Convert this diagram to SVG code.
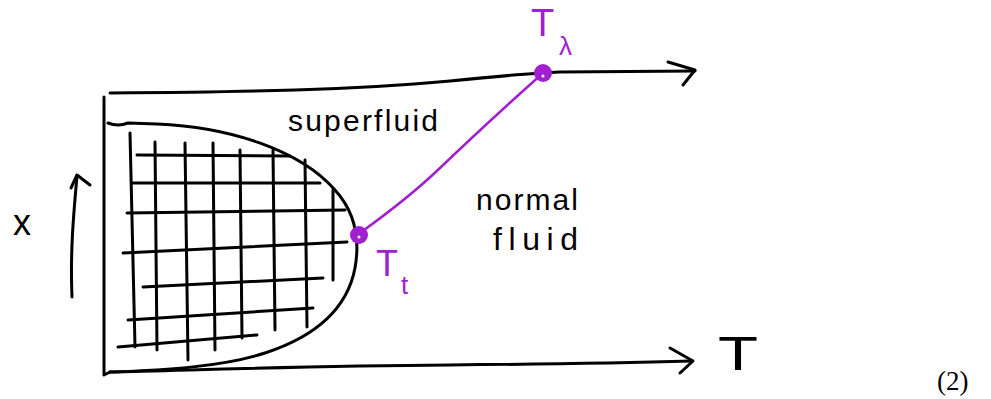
<svg xmlns="http://www.w3.org/2000/svg" width="991" height="399" viewBox="0 0 991 399">
<style>
.ink{fill:none;stroke:#000;stroke-width:3;stroke-linecap:round;stroke-linejoin:round}
.grid line{stroke:#000;stroke-width:3;stroke-linecap:round}
.pur{fill:none;stroke:#a020d0;stroke-width:2.5;stroke-linecap:round}
.dot{fill:#a020d0}
.hole{fill:#fff}
.hand{font-family:"Liberation Sans",Arial,sans-serif;fill:#000}
.ptxt{font-family:"Liberation Sans",Arial,sans-serif;fill:#a020d0}
</style>
<rect width="991" height="399" fill="#fff"/>
<g id="connectors">
  <g id="axes">
    <path class="ink" d="M104 97 L104 375 L110 372"/>
    <path class="ink" d="M110 93 C250 92 350 90 450 81 C500 76 530 73 560 72 L695 71"/>
    <path class="ink" d="M668 62 L695 70 L683 85"/>
    <path class="ink" d="M110 372 C200 370 300 366 450 365 C560 364 620 363 692 361"/>
    <path class="ink" d="M670 348 L693 361 L680 373"/>
    <path class="ink" d="M72 297 C70 250 74 210 77 176"/>
    <path class="ink" d="M71 188 L77 175 L90 185"/>
  </g>
  <path id="transition-line" class="pur" d="M360 233 C385 215 415 192 440 168 S515 98 543 73"/>
</g>
<g id="superfluid-region">
  <path class="ink" d="M108 123 Q118 127 128 123 L157 124 C230 127 300 150 335 190 C355 212 360 240 355 268 C348 305 320 335 265 353 C225 366 170 370 110 372"/>
  <g class="grid">
    <line x1="130" y1="133" x2="135" y2="347"/>
    <line x1="155" y1="142" x2="157" y2="350"/>
    <line x1="185" y1="143" x2="188" y2="360"/>
    <line x1="213" y1="143" x2="215" y2="350"/>
    <line x1="240" y1="150" x2="242" y2="338"/>
    <line x1="273" y1="150" x2="275" y2="330"/>
    <line x1="305" y1="160" x2="307" y2="327"/>
    <line x1="333" y1="190" x2="333" y2="280"/>
    <line x1="137" y1="155" x2="290" y2="156"/>
    <line x1="133" y1="183" x2="320" y2="183"/>
    <line x1="127" y1="213" x2="345" y2="210"/>
    <line x1="123" y1="253" x2="347" y2="242"/>
    <line x1="143" y1="287" x2="323" y2="278"/>
    <line x1="128" y1="320" x2="313" y2="308"/>
    <line x1="118" y1="347" x2="257" y2="335"/>
  </g>
</g>
<g id="node-Tt">
  <circle class="dot" cx="359" cy="235" r="9"/>
  <circle class="hole" cx="359" cy="237" r="1.5"/>
  <text class="ptxt" x="376" y="276" font-size="36">T</text>
  <text class="ptxt" x="401" y="294" font-size="26">t</text>
</g>
<g id="node-Tlambda">
  <circle class="dot" cx="543" cy="73" r="9"/>
  <circle class="hole" cx="543" cy="76" r="1.5"/>
  <text class="ptxt" x="531" y="36" font-size="38">T</text>
  <text class="ptxt" x="559" y="55" font-size="26">λ</text>
</g>
<g id="labels">
  <text class="hand" x="288" y="131" font-size="30" textLength="150" lengthAdjust="spacing">superfluid</text>
  <text class="hand" x="476" y="210" font-size="30" textLength="102" lengthAdjust="spacing">normal</text>
  <text class="hand" x="493" y="250" font-size="32" textLength="85" lengthAdjust="spacing">fluid</text>
  <text class="hand" x="13" y="235" font-size="36">x</text>
  <text class="hand" x="718" y="370" font-size="48" textLength="40" lengthAdjust="spacingAndGlyphs">T</text>
  <text x="937" y="390" font-family="'Liberation Serif','Times New Roman',serif" font-size="27" fill="#000">(2)</text>
</g>
</svg>
